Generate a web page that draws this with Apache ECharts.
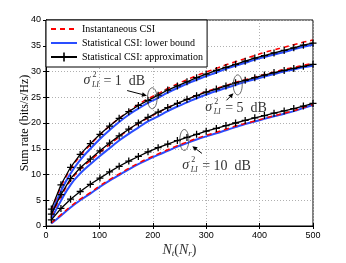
<!DOCTYPE html>
<html><head><meta charset="utf-8">
<script src="https://cdn.jsdelivr.net/npm/echarts@6/dist/echarts.min.js"></script>
<style>html,body{margin:0;padding:0;background:#fff}#c{width:346px;height:263px}</style>
</head><body><div id="c"></div>
<script>
// ---- data ----
const nValues = [10, 28, 46, 64, 83, 101, 119, 137, 155, 173, 191, 210, 228, 246, 264, 282, 300, 319, 337, 355, 373, 391, 409, 427, 446, 464, 482, 500];
const xTicks = [0, 100, 200, 300, 400, 500];
const yTicks = [0, 5, 10, 15, 20, 25, 30, 35, 40];
const legendNames = ['Instantaneous CSI', 'Statistical CSI: lower bound', 'Statistical CSI: approximation'];
const sigmaLabels = ['1', '5', '10'];

const instant1 = [3.0, 7.6, 11.0, 13.6, 15.8, 17.7, 19.4, 20.9, 22.3, 23.6, 24.7, 25.7, 26.7, 27.6, 28.4, 29.2, 29.9, 30.6, 31.3, 31.9, 32.5, 33.1, 33.7, 34.2, 34.7, 35.2, 35.7, 36.1];
const lower1   = [2.3, 6.8, 10.2, 12.8, 15.0, 16.9, 18.6, 20.2, 21.6, 22.8, 23.9, 24.9, 25.9, 26.8, 27.6, 28.4, 29.1, 29.8, 30.5, 31.1, 31.7, 32.3, 32.8, 33.3, 33.8, 34.3, 34.8, 35.2];
const approx1  = [3.3, 8.0, 11.4, 13.9, 16.0, 17.8, 19.4, 20.9, 22.2, 23.4, 24.4, 25.4, 26.4, 27.2, 28.0, 28.8, 29.5, 30.2, 30.8, 31.4, 32.0, 32.6, 33.1, 33.6, 34.1, 34.6, 35.1, 35.5];

const instant5 = [2.0, 5.7, 8.8, 11.0, 12.7, 14.3, 15.8, 17.3, 18.7, 19.9, 21.0, 22.0, 23.0, 23.8, 24.6, 25.4, 26.1, 26.7, 27.3, 27.9, 28.4, 28.9, 29.4, 29.9, 30.4, 30.8, 31.2, 31.6];
const lower5   = [1.4, 4.9, 8.0, 10.2, 12.0, 13.6, 15.1, 16.6, 17.9, 19.1, 20.3, 21.3, 22.3, 23.2, 24.0, 24.8, 25.5, 26.2, 26.8, 27.4, 28.0, 28.5, 29.0, 29.5, 30.0, 30.4, 30.8, 31.1];
const approx5  = [2.3, 6.1, 9.2, 11.3, 13.0, 14.6, 16.1, 17.5, 18.8, 20.0, 21.1, 22.1, 23.0, 23.8, 24.6, 25.3, 26.0, 26.6, 27.2, 27.8, 28.3, 28.8, 29.3, 29.8, 30.2, 30.6, 31.0, 31.4];

const instant10 = [0.6, 2.2, 3.8, 5.2, 6.5, 7.8, 9.0, 10.1, 11.2, 12.2, 13.1, 14.0, 14.8, 15.6, 16.3, 17.0, 17.6, 18.2, 18.8, 19.4, 19.9, 20.4, 20.9, 21.4, 21.9, 22.4, 23.0, 23.6];
const lower10   = [0.5, 2.0, 3.6, 5.0, 6.3, 7.6, 8.8, 9.9, 11.0, 12.0, 12.9, 13.8, 14.6, 15.4, 16.1, 16.8, 17.4, 18.0, 18.6, 19.2, 19.8, 20.3, 20.8, 21.3, 21.8, 22.3, 22.9, 23.5];
const approx10  = [1.2, 3.4, 5.2, 6.7, 8.1, 9.3, 10.5, 11.6, 12.6, 13.5, 14.4, 15.2, 15.9, 16.6, 17.2, 17.8, 18.4, 18.95, 19.5, 20.0, 20.5, 21.0, 21.45, 21.9, 22.35, 22.8, 23.3, 23.8];

const groups = [
  {instant: instant1, lower: lower1, approx: approx1},
  {instant: instant5, lower: lower5, approx: approx5},
  {instant: instant10, lower: lower10, approx: approx10}
];

// ---- chart ----
const chart = echarts.init(document.getElementById('c'), null, {renderer: 'canvas'});
const pairs = y => nValues.map((n, i) => [n, y[i]]);
const cross = 'path://M4.1,0H5.9V4.1H10V5.9H5.9V10H4.1V5.9H0V4.1H4.1Z';
const BLUE = '#2a4dff', RED = '#ff0000';
const serif = 'Liberation Serif';

const series = [];
groups.forEach(g => {
  series.push({name: legendNames[1], type: 'line', data: pairs(g.lower), smooth: true, symbol: 'none',
    lineStyle: {color: BLUE, width: 2}, itemStyle: {color: BLUE}, z: 2, silent: true, animation: false});
  series.push({name: legendNames[0], type: 'line', data: pairs(g.instant), smooth: true, symbol: 'none',
    lineStyle: {color: RED, width: 1.5, type: [5, 4]}, itemStyle: {color: RED}, z: 3, silent: true, animation: false});
  series.push({name: legendNames[2], type: 'line', data: pairs(g.approx), symbol: cross, symbolSize: 7, showSymbol: true,
    lineStyle: {color: '#000', width: 1.3}, itemStyle: {color: '#000'}, z: 4, silent: true, animation: false});
});

const axisCommon = {
  axisLine: {show: true, lineStyle: {color: '#000', width: 1}},
  axisTick: {show: true, inside: true, length: 3, lineStyle: {color: '#000'}},
};

chart.setOption({
  animation: false,
  grid: {left: 46, right: 33, top: 20, bottom: 30, show: true, borderColor: '#000', borderWidth: 1, backgroundColor: '#fff'},
  legend: {
    data: [
      {name: legendNames[0], itemStyle: {opacity: 0}},
      {name: legendNames[1], itemStyle: {opacity: 0}},
      {name: legendNames[2]}
    ],
    orient: 'vertical', left: 46, top: 20, backgroundColor: '#fff',
    borderColor: '#000', borderWidth: 1, borderRadius: 0, padding: [4, 4, 5, 4], itemGap: 4,
    itemWidth: 26, itemHeight: 11, textStyle: {fontFamily: serif, fontSize: 10, color: '#000'}, z: 10
  },
  xAxis: [
    Object.assign({type: 'value', min: xTicks[0], max: xTicks[xTicks.length - 1], interval: 100,
      name: '{i|N}{s|t}{n|(}{i|N}{s|r}{n|)}', nameLocation: 'middle', nameGap: 17, nameMoveOverlap: false,
      nameTextStyle: {verticalAlign: 'top', rich: {
        i: {fontFamily: serif, fontStyle: 'italic', fontSize: 14, color: '#333'},
        n: {fontFamily: serif, fontSize: 14, color: '#333'},
        s: {fontFamily: serif, fontStyle: 'italic', fontSize: 9, color: '#333', padding: [6, 0, 0, 0]}
      }},
      axisLabel: {fontFamily: 'Liberation Sans', fontSize: 9, color: '#000', margin: 5},
      splitLine: {show: true, lineStyle: {color: '#b0b0b0', type: [1, 2], width: 1}}}, axisCommon),
    Object.assign({type: 'value', position: 'top', min: xTicks[0], max: xTicks[xTicks.length - 1], interval: 100,
      axisLabel: {show: false}, splitLine: {show: false}}, axisCommon)
  ],
  yAxis: [
    Object.assign({type: 'value', min: yTicks[0], max: yTicks[yTicks.length - 1], interval: 5,
      name: 'Sum rate (bits/s/Hz)', nameLocation: 'middle', nameGap: 15, nameMoveOverlap: false,
      nameTextStyle: {fontFamily: serif, fontSize: 12, color: '#000'},
      axisLabel: {fontFamily: 'Liberation Sans', fontSize: 9, color: '#000', margin: 5},
      splitLine: {show: true, lineStyle: {color: '#b0b0b0', type: [1, 2], width: 1}}}, axisCommon),
    Object.assign({type: 'value', position: 'right', min: yTicks[0], max: yTicks[yTicks.length - 1], interval: 5,
      axisLabel: {show: false}, splitLine: {show: false}}, axisCommon)
  ],
  series: series
});

// ---- annotations (placed in data coordinates) ----
const P = (n, y) => chart.convertToPixel({xAxisIndex: 0, yAxisIndex: 0}, [n, y]);
const graphics = [];
function ellipse(n, y, rx, ry) {
  const c = P(n, y);
  graphics.push({type: 'ellipse', shape: {cx: c[0], cy: c[1], rx: rx, ry: ry},
    style: {fill: 'none', stroke: '#444', lineWidth: 0.8}, z: 20});
}
function arrow(n1, y1, n2, y2) {
  const a = P(n1, y1), b = P(n2, y2);
  const dx = b[0] - a[0], dy = b[1] - a[1], L = Math.hypot(dx, dy);
  const ux = dx / L, uy = dy / L, hl = 5, hw = 2.3;
  const bx = b[0] - ux * hl, by = b[1] - uy * hl;
  graphics.push({type: 'line', shape: {x1: a[0], y1: a[1], x2: bx, y2: by}, style: {stroke: '#000', lineWidth: 1}, z: 20});
  graphics.push({type: 'polygon', shape: {points: [[b[0], b[1]], [bx - uy * hw, by + ux * hw], [bx + uy * hw, by - ux * hw]]},
    style: {fill: '#000'}, z: 20});
}
function sigmaLabel(n, y, val) {
  const p = P(n, y);
  const x = p[0], cy = p[1];
  const col = '#333';
  graphics.push({type: 'text', x: x, y: cy, style: {text: 'σ', font: 'italic 14px "Liberation Serif"', fill: col, verticalAlign: 'middle'}, z: 20});
  graphics.push({type: 'text', x: x + 9, y: cy - 5.5, style: {text: '2', font: '8px "Liberation Serif"', fill: col, verticalAlign: 'middle'}, z: 20});
  graphics.push({type: 'text', x: x + 8.5, y: cy + 4.5, style: {text: 'LI', font: 'italic 8px "Liberation Serif"', fill: col, verticalAlign: 'middle'}, z: 20});
  graphics.push({type: 'text', x: x + 20, y: cy + 1, style: {text: '= ' + val + '  dB', font: '14px "Liberation Serif"', fill: col, verticalAlign: 'middle'}, z: 20});
}
ellipse(199, 24.8, 4.8, 10.5);
ellipse(359, 27.4, 4.5, 10);
ellipse(259, 16.7, 4.5, 10.5);
arrow(152, 26.3, 189, 25.3);
arrow(338, 24.4, 351, 25.8);
arrow(292, 14.1, 274, 15.5);
sigmaLabel(70, 28.3, sigmaLabels[0]);
sigmaLabel(298, 23.0, sigmaLabels[1]);
sigmaLabel(255, 11.8, sigmaLabels[2]);
chart.setOption({graphic: graphics});
</script></body></html>
